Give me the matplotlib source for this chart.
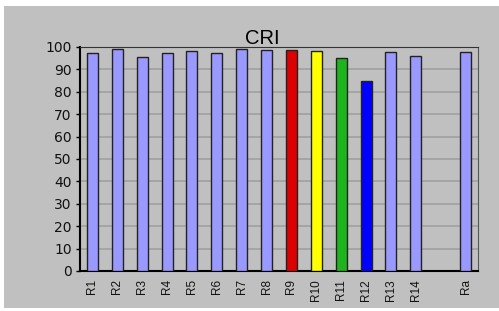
import numpy as np
import matplotlib.pyplot as plt
from matplotlib.patches import Rectangle

labels = ["R1", "R2", "R3", "R4", "R5", "R6", "R7", "R8", "R9", "R10",
          "R11", "R12", "R13", "R14", "", "Ra"]
values = [97.2, 99.1, 95.5, 97.2, 98.2, 97.2, 99.1, 98.8, 98.8, 98.2,
          95.1, 84.7, 97.8, 96.1, np.nan, 97.8]
colors = ["#9999ff"] * 8 + ["#dd0000", "#ffff00", "#1db41d", "#0000ff"] + ["#9999ff"] * 4

fig = plt.figure(figsize=(4.99, 3.11), dpi=100)
fig.patch.set_facecolor("white")
fig.patches.append(Rectangle((4 / 499, 3 / 311), 495 / 499, 302 / 311,
                             transform=fig.transFigure, facecolor="#c0c0c0",
                             edgecolor="none", zorder=-5))

ax = fig.add_axes([80 / 499, 1 - 271 / 311, 398 / 499, 224 / 311])
ax.set_facecolor("#c0c0c0")

x = np.arange(len(labels))
vals = np.array(values, dtype=float)
mask = ~np.isnan(vals)
ax.bar(x[mask], vals[mask], width=0.44, color=[c for c, m in zip(colors, mask) if m],
       edgecolor="#222222", linewidth=1.0, zorder=3)

ax.set_xlim(-0.5, len(labels) - 0.5)
ax.set_ylim(0, 100)
ax.set_yticks(np.arange(0, 101, 10))
ax.yaxis.grid(True, color="#a0a0a0", linewidth=1.2, zorder=1)
ax.set_axisbelow(True)

ax.set_xticks(x)
ax.set_xticklabels(labels, rotation=90, fontsize=8.5, family="Liberation Sans",
                   color="#111111")
ax.tick_params(axis="x", length=0, pad=6)
ax.tick_params(axis="y", length=3, width=1, labelsize=10, pad=3, labelcolor="#111111")
for lab in ax.get_yticklabels():
    lab.set_family("DejaVu Sans")

ax.spines["left"].set_color("black")
ax.spines["bottom"].set_color("black")
ax.spines["left"].set_linewidth(1.5)
ax.spines["bottom"].set_linewidth(1.5)
ax.spines["top"].set_color("#333333")
ax.spines["right"].set_color("#555555")

fig.text(262 / 499, 1 - 44 / 311, "CRI", ha="center", va="baseline",
         fontsize=14.5, family="Liberation Sans")

fig.savefig("out.png", dpi=100)
